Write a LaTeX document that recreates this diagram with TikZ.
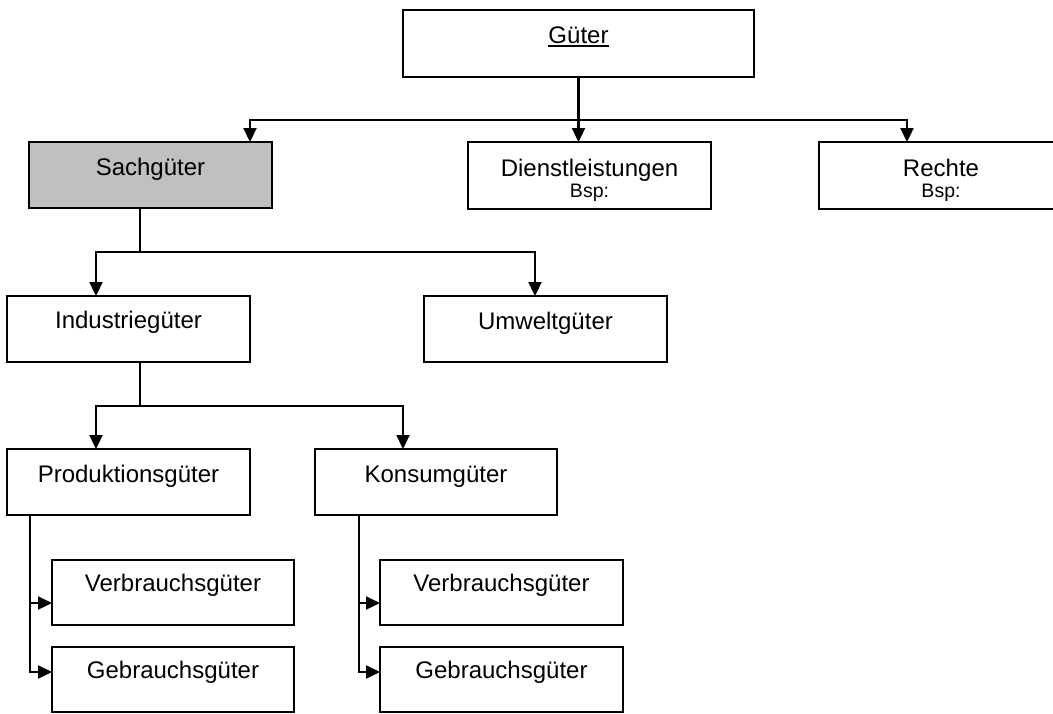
\documentclass[tikz,border=0pt]{standalone}
\usepackage{fontspec}
\setmainfont{Liberation Sans}
\usetikzlibrary{arrows.meta}
\definecolor{silverfill}{RGB}{192,192,192}
\newcommand\myul[1]{\setbox0\hbox{#1}\rlap{\raisebox{-4.4pt}{\rule{\wd0}{2pt}}}\box0}
\newcommand\bsp[2]{\begin{tabular}[t]{@{}c@{}}#1\\{\fontsize{19.5}{21}\selectfont #2}\end{tabular}}
\begin{document}
\begin{tikzpicture}[x=1pt,y=-1pt,
  box/.style={draw, line width=2.6pt, inner sep=0pt, outer sep=0pt, anchor=north west,
    text height=33pt, font=\fontsize{24}{21}\selectfont},
  conn/.style={line width=2.3pt},
  arr/.style={line width=2.3pt, -{Triangle[length=14pt,width=13pt]}},
  both/.style={line width=2.3pt, {Triangle[length=14pt,width=13pt]}-{Triangle[length=14pt,width=13pt]}}]
\useasboundingbox (0,0) rectangle (1053,713);

% boxes
\node[box, minimum width=351pt, minimum height=67pt, text depth=34pt] (gut) at (403,10) {\myul{Güter}};
\node[box, fill=silverfill, minimum width=243pt, minimum height=66pt, text depth=33pt] (sach) at (29,142) {Sachgüter};
\node[box, minimum width=243pt, minimum height=67pt, text height=34pt, text depth=33pt] (dl) at (468,142) {\bsp{Dienstleistungen}{Bsp:}};
\node[box, minimum width=244pt, minimum height=67pt, text height=34pt, text depth=33pt] (re) at (819,142) {\bsp{Rechte}{Bsp:}};
\node[box, minimum width=243pt, minimum height=66pt, text height=32pt, text depth=34pt] (ind) at (7,296) {Industriegüter};
\node[box, minimum width=243pt, minimum height=66pt, text depth=33pt] (umw) at (424,296) {Umweltgüter};
\node[box, minimum width=243pt, minimum height=66pt, text depth=33pt] (prod) at (7,449) {Produktionsgüter};
\node[box, minimum width=242pt, minimum height=66pt, text depth=33pt] (kons) at (315,449) {Konsumgüter};
\node[box, minimum width=242pt, minimum height=65pt, text height=31pt, text depth=34pt] (pv) at (52,560) {Verbrauchsgüter};
\node[box, minimum width=242pt, minimum height=65pt, text height=31pt, text depth=34pt] (pg) at (52,647) {Gebrauchsgüter};
\node[box, minimum width=243pt, minimum height=65pt, text height=31pt, text depth=34pt] (kv) at (380,560) {Verbrauchsgüter};
\node[box, minimum width=243pt, minimum height=65pt, text height=31pt, text depth=34pt] (kg) at (380,647) {Gebrauchsgüter};

% level 1
\coordinate (b1l) at (250,120);
\coordinate (b1r) at (907,120);
\draw[arr] (gut.south) -- (gut.south |- dl.north);
\draw[both] (sach.north -| b1l) -- (b1l) -- (b1r) -- (re.north -| b1r);

% level 2
\coordinate (b2) at (140,252);
\coordinate (b2l) at (96,252);
\coordinate (b2r) at (535,252);
\draw[conn] (sach.south -| b2) -- (b2);
\draw[both] (ind.north -| b2l) -- (b2l) -- (b2r) -- (umw.north -| b2r);

% level 3
\coordinate (b3) at (140,406);
\coordinate (b3l) at (96,406);
\coordinate (b3r) at (403,406);
\draw[conn] (ind.south -| b3) -- (b3);
\draw[both] (prod.north -| b3l) -- (b3l) -- (b3r) -- (kons.north -| b3r);

% level 4
\coordinate (pa) at (30,603);
\coordinate (pb) at (30,672);
\coordinate (ka) at (359,603);
\coordinate (kb) at (359,672);
\draw[arr] (prod.south -| pb) -- (pb) -- (pb -| pg.west);
\draw[arr] (pa) -- (pa -| pv.west);
\draw[arr] (kons.south -| kb) -- (kb) -- (kb -| kg.west);
\draw[arr] (ka) -- (ka -| kv.west);
\end{tikzpicture}
\end{document}
